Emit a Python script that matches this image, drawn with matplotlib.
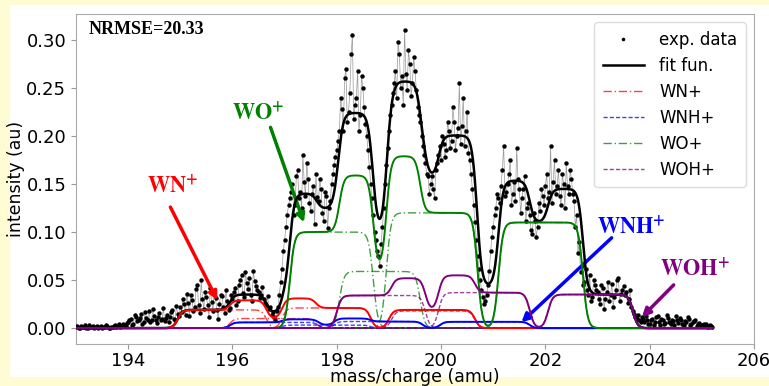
import numpy as np
import matplotlib
matplotlib.use("Agg")
import matplotlib.pyplot as plt
from matplotlib.patches import Rectangle

plt.rcParams['mathtext.fontset'] = 'stix'

# ---------------- data ----------------
mass_step = 0.05
mass_start_a = 193.0
exp_values_a = [
    # 193.00 - 193.95
    0.001, 0.000, 0.002, 0.001, 0.000, 0.003, 0.001, 0.000, 0.002, 0.001,
    0.000, 0.001, 0.002, 0.000, 0.001, 0.003, 0.002, 0.001, 0.004, 0.002,
    # 194
    0.006, 0.010, 0.004, 0.012, 0.008, 0.015, 0.006, 0.011, 0.018, 0.009,
    0.013, 0.005, 0.016, 0.010, 0.007, 0.014, 0.012, 0.019, 0.008, 0.015,
    # 195
    0.022, 0.030, 0.014, 0.026, 0.035, 0.018, 0.041, 0.024, 0.050, 0.020,
    0.032, 0.012, 0.027, 0.038, 0.019, 0.025, 0.033, 0.016, 0.028, 0.021,
    # 196
    0.030, 0.042, 0.028, 0.050, 0.037, 0.058, 0.041, 0.035, 0.060, 0.044,
    0.038, 0.034, 0.030, 0.024, 0.020, 0.014, 0.012, 0.018, 0.035, 0.062,
    # 197
    0.092, 0.118, 0.135, 0.150, 0.128, 0.165, 0.142, 0.180, 0.138, 0.155,
    0.122, 0.148, 0.160, 0.132, 0.145, 0.112, 0.138, 0.125, 0.150, 0.170,
    # 198
    0.185, 0.205, 0.228, 0.260, 0.215, 0.245, 0.305, 0.232, 0.268, 0.222,
    0.250, 0.212, 0.185, 0.150, 0.118, 0.092, 0.075, 0.088, 0.125, 0.170,
    # 199
    0.205, 0.232, 0.255, 0.240, 0.285, 0.262, 0.310, 0.248, 0.275, 0.255,
    0.268, 0.230, 0.215, 0.190, 0.172, 0.158, 0.150, 0.145, 0.165, 0.180,
    # 200
    0.175, 0.192, 0.185, 0.205, 0.195, 0.215, 0.200, 0.255, 0.210, 0.190,
    0.225, 0.175, 0.145, 0.110, 0.075, 0.050, 0.032, 0.028, 0.045, 0.080,
    # 201
    0.105, 0.125, 0.135, 0.148, 0.190, 0.142, 0.160, 0.128, 0.152, 0.188,
    0.145, 0.135, 0.158, 0.125, 0.118, 0.098, 0.112, 0.105, 0.122, 0.138,
    # 202
    0.148, 0.135, 0.190, 0.152, 0.140, 0.165, 0.128, 0.150, 0.172, 0.140,
    0.155, 0.132, 0.118, 0.090, 0.065, 0.048, 0.040, 0.055, 0.032, 0.045,
    # 203
    0.038, 0.025, 0.042, 0.030, 0.048, 0.035, 0.022, 0.040, 0.052, 0.036,
    0.044, 0.038, 0.030, 0.022, 0.015, 0.010, 0.008, 0.012, 0.006, 0.009,
    # 204
    0.004, 0.010, 0.006, 0.013, 0.003, 0.008, 0.005, 0.011, 0.004, 0.007,
    0.013, 0.005, 0.009, 0.003, 0.006, 0.010, 0.004, 0.007, 0.002, 0.005,
    # 205.00 - 205.20
    0.003, 0.004, 0.002, 0.003, 0.001,
]

mass_start_b = 193.025
exp_values_b = [
    # 193.025 - 193.975
    0.002, 0.000, 0.001, 0.003, 0.000, 0.001, 0.002, 0.001, 0.000, 0.002,
    0.001, 0.003, 0.000, 0.001, 0.002, 0.001, 0.004, 0.002, 0.003, 0.005,
    # 194
    0.009, 0.003, 0.014, 0.007, 0.011, 0.004, 0.017, 0.009, 0.006, 0.020,
    0.008, 0.012, 0.009, 0.021, 0.011, 0.006, 0.017, 0.010, 0.023, 0.013,
    # 195
    0.017, 0.025, 0.036, 0.013, 0.029, 0.022, 0.045, 0.016, 0.030, 0.038,
    0.024, 0.042, 0.018, 0.031, 0.010, 0.035, 0.022, 0.040, 0.019, 0.034,
    # 196
    0.038, 0.024, 0.045, 0.055, 0.032, 0.047, 0.052, 0.028, 0.049, 0.040,
    0.031, 0.043, 0.026, 0.033, 0.022, 0.017, 0.009, 0.022, 0.048, 0.080,
    # 197
    0.105, 0.128, 0.142, 0.118, 0.158, 0.135, 0.125, 0.152, 0.172, 0.130,
    0.140, 0.108, 0.136, 0.155, 0.120, 0.142, 0.104, 0.132, 0.160, 0.178,
    # 198
    0.195, 0.240, 0.205, 0.270, 0.225, 0.285, 0.218, 0.240, 0.205, 0.262,
    0.230, 0.200, 0.168, 0.135, 0.100, 0.080, 0.065, 0.105, 0.150, 0.188,
    # 199
    0.222, 0.245, 0.268, 0.298, 0.250, 0.232, 0.265, 0.290, 0.242, 0.282,
    0.248, 0.222, 0.200, 0.180, 0.160, 0.140, 0.158, 0.135, 0.172, 0.190,
    # 200
    0.200, 0.178, 0.215, 0.188, 0.230, 0.185, 0.208, 0.192, 0.240, 0.205,
    0.182, 0.160, 0.128, 0.092, 0.062, 0.040, 0.025, 0.035, 0.060, 0.095,
    # 201
    0.118, 0.140, 0.130, 0.165, 0.138, 0.150, 0.175, 0.140, 0.132, 0.155,
    0.120, 0.145, 0.112, 0.130, 0.102, 0.120, 0.095, 0.130, 0.145, 0.128,
    # 202
    0.160, 0.142, 0.130, 0.175, 0.148, 0.138, 0.160, 0.125, 0.148, 0.165,
    0.140, 0.105, 0.078, 0.058, 0.045, 0.062, 0.035, 0.028, 0.050, 0.040,
    # 203
    0.030, 0.045, 0.020, 0.038, 0.028, 0.046, 0.032, 0.050, 0.028, 0.040,
    0.034, 0.026, 0.040, 0.018, 0.012, 0.014, 0.006, 0.010, 0.013, 0.004,
    # 204
    0.008, 0.003, 0.012, 0.006, 0.010, 0.004, 0.014, 0.006, 0.009, 0.003,
    0.008, 0.011, 0.004, 0.007, 0.012, 0.003, 0.006, 0.009, 0.004, 0.003,
    # 205.025 - 205.175
    0.002, 0.004, 0.001, 0.002,
]

# isotope peak blocks (start, end, height) for each species
WN_start = [194.95, 195.95, 196.95, 199.00]
WN_end = [196.65, 197.60, 198.65, 200.65]
WN_height = [0.019, 0.010, 0.021, 0.019]

WNH_start = [195.95, 196.95, 197.95, 199.98]
WNH_end = [197.65, 198.65, 199.65, 201.70]
WNH_height = [0.0060, 0.0032, 0.0069, 0.0066]

WO_start = [197.10, 198.05, 198.95, 201.10]
WO_end = [198.70, 199.60, 200.70, 202.72]
WO_height = [0.100, 0.059, 0.120, 0.110]

WOH_start = [198.00, 199.05, 199.95, 202.05]
WOH_end = [199.70, 200.65, 201.70, 203.68]
WOH_height = [0.034, 0.018, 0.037, 0.035]

x_ticks = [194, 196, 198, 200, 202, 204, 206]
y_ticks = [0.00, 0.05, 0.10, 0.15, 0.20, 0.25, 0.30]

# ---------------- figure ----------------
fig = plt.figure(figsize=(7.69, 3.86), dpi=100)
fig.patch.set_facecolor('#fffbd3')
fig.patches.append(Rectangle((10 / 769, 1 - 377 / 386), 1 - 10 / 769, (377 - 5) / 386,
                             transform=fig.transFigure, facecolor='white',
                             edgecolor='none', zorder=-10))
ax = fig.add_axes([76 / 769, 1 - 344 / 386, (754 - 76) / 769, (344 - 14) / 386])

mass_a = mass_start_a + mass_step * np.arange(len(exp_values_a))
mass_b = mass_start_b + mass_step * np.arange(len(exp_values_b))
exp_mass = np.concatenate([mass_a, mass_b])
exp_vals = np.concatenate([exp_values_a, exp_values_b])
order = np.argsort(exp_mass)
exp_mass, exp_vals = exp_mass[order], exp_vals[order]

grid = np.linspace(exp_mass[0], exp_mass[-1], 2000)
edge = 0.09


def block(a, b, h):
    return h * 0.5 * (np.tanh((grid - a) / edge) - np.tanh((grid - b) / edge))


species = [
    ('WN+', WN_start, WN_end, WN_height, 'red', (0, (6, 2, 1, 2))),
    ('WNH+', WNH_start, WNH_end, WNH_height, 'blue', (0, (3, 1.5))),
    ('WO+', WO_start, WO_end, WO_height, 'green', (0, (6, 2, 1, 2))),
    ('WOH+', WOH_start, WOH_end, WOH_height, 'purple', (0, (3, 1.5))),
]

totals = []
for name, st, en, hh, col, ls in species:
    tot = np.zeros_like(grid)
    for a, b, h in zip(st, en, hh):
        tot += block(a, b, h)
    totals.append(tot)
fit = np.sum(totals, axis=0)

ax.plot(exp_mass, exp_vals, color='#999999', lw=0.5, zorder=2)
ax.plot(exp_mass, exp_vals, 'o', color='black', ms=3.2, mec='none',
        label='exp. data', zorder=3)
ax.plot(grid, fit, color='black', lw=1.8, label='fit fun.', zorder=4)

for name, st, en, hh, col, ls in species:
    for i, (a, b, h) in enumerate(zip(st, en, hh)):
        ax.plot(grid, block(a, b, h), color=col, lw=1.0, ls=ls, alpha=0.75,
                label=name if i == 0 else None, zorder=5)
for (name, st, en, hh, col, ls), tot in zip(species, totals):
    ax.plot(grid, tot, color=col, lw=1.4, zorder=6)

ax.set_xlim(193, 206)
ax.set_ylim(-0.0165, 0.327)
ax.set_xticks(x_ticks)
ax.set_yticks(y_ticks)
ax.set_yticklabels([f'{v:.2f}' for v in y_ticks])
ax.tick_params(labelsize=13, color='#999999', length=3.5)
ax.tick_params(axis='x', pad=2)
for sp in ax.spines.values():
    sp.set_color('#aaaaaa')
ax.set_xlabel('mass/charge (amu)', fontsize=12.5, labelpad=-1)
ax.set_ylabel('intensity (au)', fontsize=12.5, labelpad=1)

leg = ax.legend(loc='upper right', fontsize=12, handlelength=2.5,
                labelspacing=0.48, borderpad=0.5, handletextpad=0.9,
                framealpha=1, edgecolor='#dddddd', markerscale=0.8)

ax.text(0.018, 0.952, 'NRMSE=20.33', transform=ax.transAxes, fontsize=13,
        fontweight='bold', family='Liberation Serif', va='center', ha='left')

ann = dict(fontsize=16, ha='center', va='center')


def arrow(c):
    return dict(arrowstyle='-|>', lw=2.5, color=c, mutation_scale=12,
                shrinkA=0, shrinkB=0)


ax.text(194.85, 0.149, r'$\mathbf{WN}^{\mathbf{+}}$', color='red', **ann)
ax.annotate('', xy=(195.71, 0.029), xytext=(194.81, 0.126), arrowprops=arrow('red'))
ax.text(196.5, 0.225, r'$\mathbf{WO}^{\mathbf{+}}$', color='green', **ann)
ax.annotate('', xy=(197.37, 0.110), xytext=(196.73, 0.209), arrowprops=arrow('green'))
ax.text(203.65, 0.107, r'$\mathbf{WNH}^{\mathbf{+}}$', color='blue', **ann)
ax.annotate('', xy=(201.54, 0.006), xytext=(203.27, 0.094), arrowprops=arrow('blue'))
ax.text(204.87, 0.0625, r'$\mathbf{WOH}^{\mathbf{+}}$', color='purple', **ann)
ax.annotate('', xy=(203.85, 0.0115), xytext=(204.46, 0.045), arrowprops=arrow('purple'))

fig.savefig('out.png', dpi=100, facecolor=fig.get_facecolor())
